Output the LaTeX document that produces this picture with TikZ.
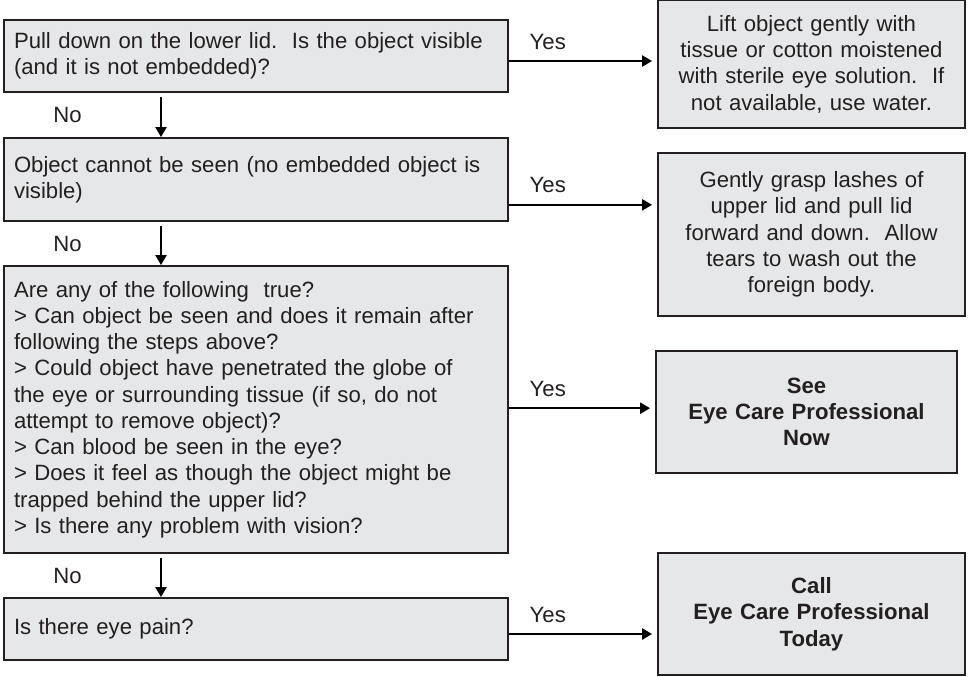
\documentclass[tikz,border=0pt]{standalone}
\usepackage{fontspec}
\setmainfont{Liberation Sans}
\usetikzlibrary{arrows.meta}
\definecolor{boxgray}{HTML}{E6E7E8}
\definecolor{inkgray}{HTML}{231F20}
\tikzset{
  step box/.style={draw=inkgray, line width=1.5pt, fill=boxgray, text=inkgray,
    inner xsep=7.5pt, inner ysep=0pt, font=\fontsize{16.6}{19.7}\selectfont},
  question/.style={step box, minimum width=378pt, text width=363pt, align=left},
  advice/.style={step box, minimum width=230.25pt, text width=205pt, align=center},
  flow/.style={draw=black, line width=1.1pt, -{Triangle[length=7.5pt,width=8.5pt]}},
  yes label/.style={anchor=base west, inner sep=0pt, xshift=15pt, yshift=9pt,
    text=inkgray, font=\fontsize{16.6}{19.7}\selectfont},
  no label/.style={left=59pt, inner sep=0pt, text=inkgray,
    font=\fontsize{16.6}{19.7}\selectfont},
}
\begin{document}
\begin{tikzpicture}[x=0.75pt, y=-0.75pt]
\useasboundingbox (0,0) rectangle (970,676);

% questions on the left
\node[question, minimum height=54pt] (q1) at (256,56)
  {Pull down on the lower lid.\ \ Is the object visible\\(and it is not embedded)?};
\node[question, minimum height=62.25pt] (q2) at (256,179.5)
  {Object cannot be seen (no embedded object is\\visible)};
\node[question, minimum height=215.25pt] (q3) at (256,409.5)
  {Are any of the following\ \ true?\\
   > Can object be seen and does it remain after\\
   following the steps above?\\
   > Could object have penetrated the globe of\\
   the eye or surrounding tissue (if so, do not\\
   attempt to remove object)?\\
   > Can blood be seen in the eye?\\
   > Does it feel as though the object might be\\
   trapped behind the upper lid?\\
   > Is there any problem with vision?};
\node[question, minimum height=46.5pt] (q4) at (256,629) {Is there eye pain?};

% what to do on the right
\node[advice, minimum height=96pt] (a1) at (811.5,64)
  {Lift object gently with\\tissue or cotton moistened\\with sterile eye solution.\ \ If\\not available, use water.};
\node[advice, minimum height=122.25pt] (a2) at (811.5,234.5)
  {Gently grasp lashes of\\upper lid and pull lid\\forward and down.\ \ Allow\\tears to wash out the\\foreign body.};
\node[advice, minimum height=91.5pt, minimum width=225.75pt] (a3) at (806.5,412)
  {\bfseries See\\Eye Care Professional\\Now};
\node[advice, minimum height=91.5pt] (a4) at (811.5,614)
  {\bfseries Call\\Eye Care Professional\\Today};

% the No arrows
\coordinate (col) at (161,0);
\draw[flow, shorten <=3pt] (q1.south -| col) -- node[no label] {No} (q2.north -| col);
\draw[flow, shorten <=3pt] (q2.south -| col) -- node[no label] {No} (q3.north -| col);
\draw[flow, shorten <=3pt] (q3.south -| col) -- node[no label] {No} (q4.north -| col);

% the Yes arrows
\draw[flow, shorten >=3.75pt] ([yshift=-3.75pt]q1.east) -- node[yes label, pos=0] {Yes} ([yshift=-3.75pt]q1.east -| a1.west);
\draw[flow, shorten >=3.75pt] ([yshift=-19pt]q2.east) -- node[yes label, pos=0] {Yes} ([yshift=-19pt]q2.east -| a2.west);
\draw[flow, shorten >=3.75pt] ([yshift=1pt]q3.east) -- node[yes label, pos=0] {Yes} ([yshift=1pt]q3.east -| a3.west);
\draw[flow, shorten >=3.75pt] ([yshift=-3.75pt]q4.east) -- node[yes label, pos=0] {Yes} ([yshift=-3.75pt]q4.east -| a4.west);
\end{tikzpicture}
\end{document}
